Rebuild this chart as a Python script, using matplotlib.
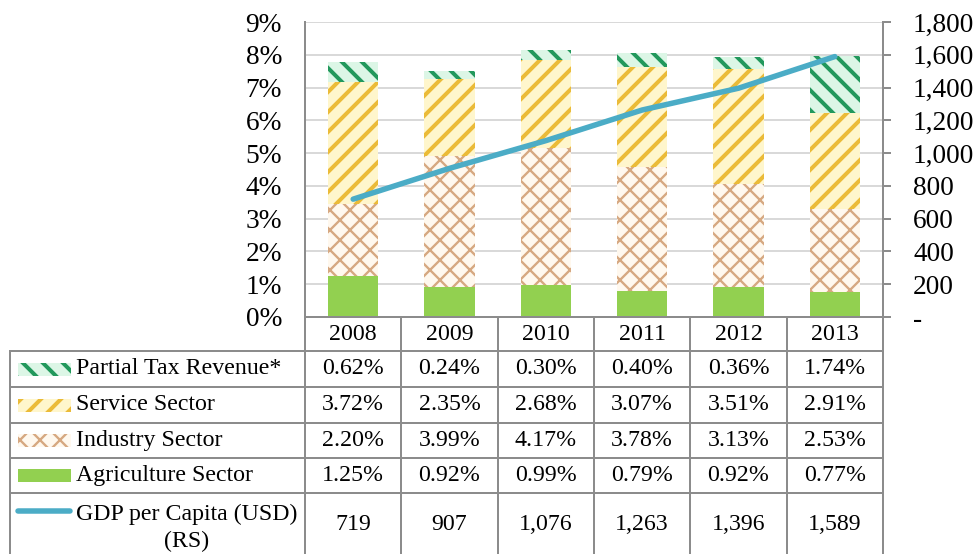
import matplotlib
matplotlib.use('Agg')
import matplotlib.pyplot as plt
from matplotlib.patches import Rectangle
from matplotlib.lines import Line2D

# ---------------- data ----------------
years = ['2008', '2009', '2010', '2011', '2012', '2013']
agriculture = [1.25, 0.92, 0.99, 0.79, 0.92, 0.77]
industry = [2.20, 3.99, 4.17, 3.78, 3.13, 2.53]
service = [3.72, 2.35, 2.68, 3.07, 3.51, 2.91]
tax = [0.62, 0.24, 0.30, 0.40, 0.36, 1.74]
gdp = [719, 907, 1076, 1263, 1396, 1589]
series_names = ['Partial Tax Revenue*', 'Service Sector', 'Industry Sector', 'Agriculture Sector']
line_name = 'GDP per Capita (USD)\n(RS)'
left_ticks = [0, 1, 2, 3, 4, 5, 6, 7, 8, 9]
right_ticks = [0, 200, 400, 600, 800, 1000, 1200, 1400, 1600, 1800]

plt.rcParams['font.family'] = ['Liberation Serif', 'DejaVu Serif']

DPI = 120
W, H = 975, 554
fig = plt.figure(figsize=(W / DPI, H / DPI), dpi=DPI)


def fx(px):
    return px / W


def fy(py):
    return 1 - py / H


def pt(px):
    return px * 72 / DPI


L, R, T, B = 305, 883, 22, 317
ax = fig.add_axes([fx(L), fy(B), fx(R) - fx(L), fy(T) - fy(B)])

GRID = '#d9d9d9'
LINEC = '#8c8c8c'
styles = {
    'Agriculture Sector': dict(facecolor='#92d050', edgecolor='#92d050', hatch=None, hlw=1.0),
    'Industry Sector': dict(facecolor='#fff8ee', edgecolor='#d6a881', hatch='xx', hlw=1.4),
    'Service Sector': dict(facecolor='#fff6cc', edgecolor='#ebbb38', hatch='//', hlw=2.4),
    'Partial Tax Revenue*': dict(facecolor='#dcf6e6', edgecolor='#22985c', hatch='\\\\', hlw=2.4),
}

x = list(range(len(years)))
bw = 0.52
stack = [('Agriculture Sector', agriculture), ('Industry Sector', industry),
         ('Service Sector', service), ('Partial Tax Revenue*', tax)]
bottom = [0.0] * len(years)
for name, vals in stack:
    st = styles[name]
    with plt.rc_context({'hatch.linewidth': st['hlw']}):
        bars = ax.bar(x, vals, bw, bottom=bottom, facecolor=st['facecolor'],
                      edgecolor=st['edgecolor'], hatch=st['hatch'], linewidth=0, zorder=2)
        for b in bars:
            if hasattr(b, 'set_hatch_linewidth'):
                b.set_hatch_linewidth(st['hlw'])
    bottom = [b0 + v for b0, v in zip(bottom, vals)]

ax.set_xlim(-0.5, len(years) - 0.5)
ax.set_ylim(0, 9)
ax.set_yticks(left_ticks)
ax.set_yticklabels([f'{t}%' for t in left_ticks])
ax.set_xticks([])
ax.grid(axis='y', color=GRID, linewidth=pt(2))
ax.set_axisbelow(True)
for s in ['top', 'right', 'bottom']:
    ax.spines[s].set_visible(False)
ax.spines['left'].set_color(LINEC)
ax.spines['left'].set_linewidth(pt(2))
ax.tick_params(axis='y', length=0, pad=pt(23), labelsize=16.4, labelcolor='black')

ax2 = ax.twinx()
ax2.plot(x, gdp, color='#4bacc6', linewidth=pt(5.5), solid_capstyle='round', zorder=3)
ax2.set_ylim(0, 1800)
ax2.set_yticks(right_ticks)
ax2.set_yticklabels(['-' if t == 0 else f'{t:,}' for t in right_ticks])
for s in ['top', 'left', 'bottom']:
    ax2.spines[s].set_visible(False)
ax2.spines['right'].set_color(LINEC)
ax2.spines['right'].set_linewidth(pt(2))
ax2.tick_params(axis='y', length=pt(8), width=pt(2), color=LINEC, pad=pt(22), labelsize=16.4)
ax2.set_xlim(-0.5, len(years) - 0.5)

# ---------------- data table ----------------
col_w = (R - L) / len(years)
row_lines = [351, 387, 423, 458, 493]
bottom_y = 560
TL = 10


def hline(y, x0, x1):
    fig.add_artist(Line2D([fx(x0), fx(x1)], [fy(y), fy(y)], color=LINEC, linewidth=pt(2)))


def vline(xp, y0, y1):
    fig.add_artist(Line2D([fx(xp), fx(xp)], [fy(y0), fy(y1)], color=LINEC, linewidth=pt(2)))


hline(B, L, R)
for y in row_lines:
    hline(y, TL, R)
vline(TL, row_lines[0], bottom_y)
for i in range(len(years) + 1):
    vline(L + i * col_w, B, bottom_y)

TS = 14.3
for i, yr in enumerate(years):
    fig.text(fx(L + (i + 0.5) * col_w), fy((B + row_lines[0]) / 2), yr,
             ha='center', va='center', fontsize=TS)

row_vals = [tax, service, industry, agriculture]
for r, (name, vals) in enumerate(zip(series_names, row_vals)):
    yc = (row_lines[r] + row_lines[r + 1]) / 2
    st = styles[name]
    with plt.rc_context({'hatch.linewidth': st['hlw']}):
        rect = Rectangle((fx(18), fy(yc + 6.5)), fx(71) - fx(18), fy(yc - 6.5) - fy(yc + 6.5),
                         transform=fig.transFigure, facecolor=st['facecolor'],
                         edgecolor=st['edgecolor'], hatch=st['hatch'], linewidth=0)
        if hasattr(rect, 'set_hatch_linewidth'):
            rect.set_hatch_linewidth(st['hlw'])
    fig.add_artist(rect)
    fig.text(fx(76), fy(yc), name, ha='left', va='center', fontsize=TS)
    for i, v in enumerate(vals):
        fig.text(fx(L + (i + 0.5) * col_w), fy(yc), f'{v:.2f}%',
                 ha='center', va='center', fontsize=TS)

# GDP row
fig.add_artist(Line2D([fx(18), fx(70)], [fy(511), fy(511)], color='#4bacc6',
                      linewidth=pt(5.5), solid_capstyle='round'))
fig.text(fx(187), fy(528), line_name, ha='center', va='center', fontsize=TS,
         multialignment='center', linespacing=1.4)
for i, v in enumerate(gdp):
    fig.text(fx(L + (i + 0.5) * col_w), fy(525), f'{v:,}',
             ha='center', va='center', fontsize=TS)

fig.savefig('out.png', dpi=DPI)
